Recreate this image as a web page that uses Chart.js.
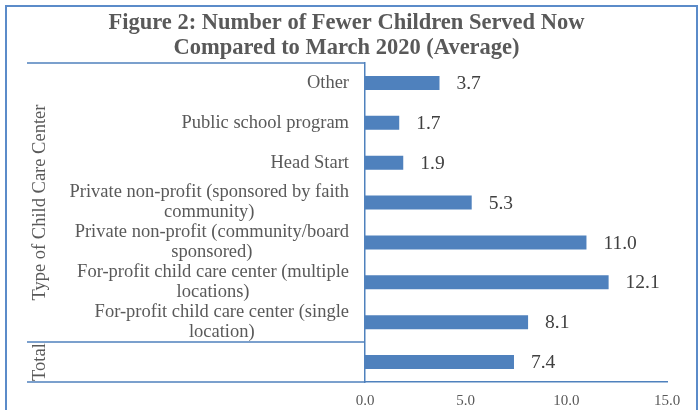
<!DOCTYPE html>
<html>
<head>
<meta charset="utf-8">
<script src="https://cdn.jsdelivr.net/npm/chart.js@4.4.1/dist/chart.umd.min.js"></script>
<style>
  html, body { margin: 0; padding: 0; background: #ffffff; }
  #wrap { width: 700px; height: 410px; position: relative; }
</style>
</head>
<body>
<div id="wrap"><canvas id="fewerChildrenChart"></canvas></div>
<script>
// Category labels (inner level), already split into lines like the original
const categories = [
    ['Other'],
    ['Public school program'],
    ['Head Start'],
    ['Private non-profit (sponsored by faith', 'community)'],
    ['Private non-profit (community/board', 'sponsored)'],
    ['For-profit child care center (multiple', 'locations)'],
    ['For-profit child care center (single', 'location)'],
    ['']
];
const categoryKeys = ['Other', 'Public school', 'Head Start', 'PNP faith', 'PNP board',
    'FP multiple', 'FP single', 'Total'];
const fewerChildren = [3.7, 1.7, 1.9, 5.3, 11.0, 12.1, 8.1, 7.4];
// outer level groups: label, first index, last index
const groupNames = ['Type of Child Care Center', 'Total'];
const groupStarts = [0, 7];
const groupEnds = [6, 7];
const xTicks = [0, 5, 10, 15];

const titleLines = ['Figure 2: Number of Fewer Children Served Now', 'Compared to March 2020 (Average)'];

const serif = "'Liberation Serif', 'Times New Roman', serif";
const blue = '#4f81bd';
const frameLeft = 27;

// frame, category labels, group labels and value labels
const decorations = {
    id: 'decorations',
    beforeDraw(chart) {
        const ctx = chart.ctx;
        ctx.save();
        ctx.strokeStyle = '#5b8bc9';
        ctx.lineWidth = 2;
        ctx.strokeRect(6, 6, 691, 420);
        ctx.restore();
    },
    afterDraw(chart) {
        const ctx = chart.ctx;
        const area = chart.chartArea;
        const y = chart.scales.y;
        ctx.save();

        // group frame lines on the left
        ctx.strokeStyle = blue;
        ctx.lineWidth = 1.5;
        const lineYs = [area.top, area.bottom];
        for (let g = 1; g < groupStarts.length; g++) {
            lineYs.push((y.getPixelForValue(groupStarts[g] - 1) + y.getPixelForValue(groupStarts[g])) / 2);
        }
        lineYs.forEach(ly => {
            ctx.beginPath();
            ctx.moveTo(frameLeft, ly);
            ctx.lineTo(area.left, ly);
            ctx.stroke();
        });

        // inner category labels: block right aligned, lines centred in block
        ctx.fillStyle = '#595959';
        ctx.font = '18.5px ' + serif;
        ctx.textBaseline = 'middle';
        ctx.textAlign = 'center';
        const lineH = 20;
        const rightEdge = area.left - 16;
        categories.forEach((lines, i) => {
            const cy = y.getPixelForValue(i);
            const w = Math.max(...lines.map(l => ctx.measureText(l).width));
            const cx = rightEdge - w / 2;
            lines.forEach((l, k) => {
                ctx.fillText(l, cx, cy + (k - (lines.length - 1) / 2) * lineH);
            });
        });

        // outer group labels, rotated
        groupNames.forEach((name, g) => {
            const top = groupStarts[g] === 0 ? area.top : lineYs[1 + g];
            const bottom = g === groupNames.length - 1 ? area.bottom : lineYs[2 + g];
            ctx.save();
            ctx.translate(40, (top + bottom) / 2);
            ctx.rotate(-Math.PI / 2);
            ctx.fillText(name, 0, 0);
            ctx.restore();
        });

        // value labels
        ctx.fillStyle = '#404040';
        ctx.font = '19.5px ' + serif;
        ctx.textAlign = 'left';
        chart.getDatasetMeta(0).data.forEach((bar, i) => {
            ctx.fillText(fewerChildren[i].toFixed(1), bar.x + 17, bar.y + 1);
        });
        ctx.restore();
    }
};

const ctxFewer = document.getElementById('fewerChildrenChart').getContext('2d');
new Chart(ctxFewer, {
    type: 'bar',
    data: {
        labels: categoryKeys,
        datasets: [{
            data: fewerChildren,
            backgroundColor: blue,
            borderWidth: 0,
            categoryPercentage: 1,
            barPercentage: 0.35
        }]
    },
    options: {
        indexAxis: 'y',
        responsive: true,
        maintainAspectRatio: false,
        animation: false,
        layout: { padding: { left: 26, right: 33, top: 0, bottom: 0 } },
        plugins: {
            legend: { display: false },
            tooltip: { enabled: false },
            title: {
                display: true,
                text: titleLines,
                color: '#595959',
                font: { family: serif, size: 22.5, weight: 'bold', lineHeight: 1.111 },
                padding: { top: 11, bottom: 2 }
            }
        },
        scales: {
            x: {
                min: 0,
                max: 15,
                afterBuildTicks: s => { s.ticks = xTicks.map(v => ({ value: v })); },
                afterFit: s => { s.height = 28; },
                grid: { display: false, drawTicks: false },
                border: { display: true, color: blue, width: 1.5 },
                ticks: {
                    color: '#595959',
                    padding: 10,
                    font: { family: serif, size: 15 },
                    callback: v => Number(v).toFixed(1)
                }
            },
            y: {
                afterFit: s => { s.width = 339; },
                grid: { display: false, drawTicks: false },
                border: { display: true, color: blue, width: 1.5 },
                ticks: { display: false }
            }
        }
    },
    plugins: [decorations]
});
</script>
</body>
</html>
